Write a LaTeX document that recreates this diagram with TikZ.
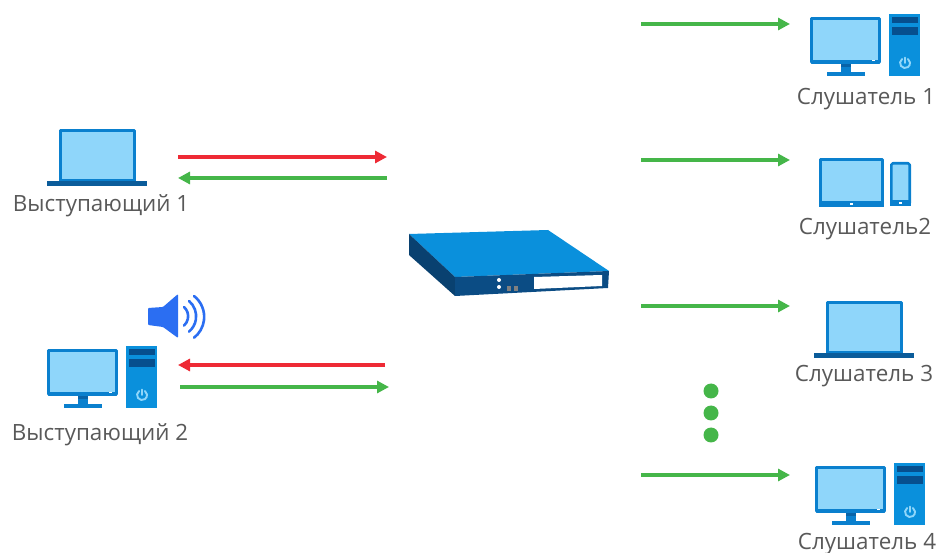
\documentclass[tikz,border=0pt]{standalone}
\usepackage{fontspec}
\setmainfont{Open Sans}
\usetikzlibrary{arrows.meta}
\definecolor{frameblue}{HTML}{0A80CE}
\definecolor{screenblue}{HTML}{8FD6FA}
\definecolor{towerblue}{HTML}{0A90DC}
\definecolor{slotblue}{HTML}{064F8E}
\definecolor{navyblue}{HTML}{0B4C84}
\definecolor{topblue}{HTML}{0A90DC}
\definecolor{speakerblue}{HTML}{2B6EF2}
\definecolor{arrowred}{HTML}{EE2A35}
\definecolor{arrowgreen}{HTML}{45B649}
\definecolor{labelgray}{HTML}{595959}
\tikzset{
  x=1pt,y=-1pt,
  screenbox/.style={fill=screenblue,draw=frameblue,line width=3.2pt,line join=round},
  flow/.style={line width=4pt,-{Triangle[length=12pt,width=12pt]}},
  redflow/.style={flow,draw=arrowred},
  greenflow/.style={flow,draw=arrowgreen},
  lbl/.style={text=labelgray,font=\fontsize{22.4pt}{25pt}\selectfont,inner sep=0pt,anchor=center},
  greendot/.style={circle,fill=arrowgreen,minimum size=15pt,inner sep=0pt},
  desktop/.pic={
    \fill[frameblue] (31,46) rectangle (41,55);
    \fill[slotblue!60!frameblue] (31,46) rectangle (41,50);
    \fill[frameblue] (17,55) rectangle (55,59);
    \draw[screenbox] (1.6,1.6) rectangle (69.4,45);
    \fill[white] (62,42.6) rectangle (65,43.6);
    \fill[towerblue] (79,-3) rectangle (110,59);
    \fill[slotblue] (82,0) rectangle (108,6);
    \fill[slotblue] (82,10) rectangle (108,18);
    \draw[screenblue,line width=1.9pt,line cap=round] (92.1,42) arc[start angle=234,delta angle=-288,radius=5];
    \draw[screenblue,line width=1.9pt,line cap=round] (95,40.5) -- (95,46);
  },
  laptop/.pic={
    \draw[screenbox] (1.6,1.6) rectangle (75.4,52);
    \fill[navyblue!70!frameblue] (-12,52) rectangle (88,57);
  },
}
\begin{document}
\begin{tikzpicture}
\useasboundingbox (0,0) rectangle (938,553);
% central device
\fill[topblue] (409,234) -- (548,230) -- (609,271) -- (455,277) -- cycle;
\fill[navyblue!85!black] (409,234) -- (455,277) -- (455,296) -- (409,255) -- cycle;
\fill[navyblue] (455,277) -- (609,271) -- (608,288) -- (455,296) -- cycle;
\fill[white] (534,277) -- (602,275) -- (602,286) -- (534,289) -- cycle;
\fill[white] (499,280) circle[radius=2];
\fill[white] (499,287) circle[radius=2];
\fill[gray] (507,286) rectangle (511,291);
\fill[gray] (514,286) rectangle (518,291);
% computers
\pic at (810,17) {desktop};
\pic at (47,349) {desktop};
\pic at (815,466) {desktop};
\pic at (59,129) {laptop};
\pic at (826,301) {laptop};
% tablet and phone
\draw[screenbox] (820.6,159.6) rectangle (882.4,205.4);
\fill[frameblue] (819,201) rectangle (884,207);
\fill[white] (850,202.6) rectangle (853,205);
\draw[screenbox,line width=2.6pt,rounded corners=1.5pt] (891.3,163.3) rectangle (909.7,204.7);
\fill[frameblue] (890,200) rectangle (911,206);
\fill[white] (899,201.8) rectangle (902,204.2);
% speaker
\fill[speakerblue,rounded corners=1pt] (148,308) -- (163,307) -- (178,294) -- (178,338) -- (163,327) -- (148,325) -- cycle;
\draw[speakerblue,line width=2.6pt,line cap=round] (184,307) arc[start angle=-48,end angle=48,radius=12.5];
\draw[speakerblue,line width=2.6pt,line cap=round] (189,301) arc[start angle=-50,end angle=50,radius=20];
\draw[speakerblue,line width=2.6pt,line cap=round] (194,296) arc[start angle=-52,end angle=52,radius=26.5];
% labels
\node[lbl] (s1) at (101,205.5) {Выступающий 1};
\node[lbl] (s2) at (100,434.5) {Выступающий 2};
\node[lbl] (l1) at (866,99.5) {Слушатель 1};
\node[lbl] (l2) at (865,229.5) {Слушатель2};
\node[lbl] (l3) at (864,376.5) {Слушатель 3};
\node[lbl] (l4) at (867,544) {Слушатель 4};
% connector ends
\coordinate (a1) at (178,157); \coordinate (b1) at (387,157);
\coordinate (a2) at (387,178); \coordinate (b2) at (178,178);
\coordinate (a3) at (385,365); \coordinate (b3) at (178,365);
\coordinate (a4) at (180,387); \coordinate (b4) at (389,387);
\coordinate (c1) at (641,24); \coordinate (d1) at (790,24);
\coordinate (c2) at (641,160); \coordinate (d2) at (790,160);
\coordinate (c3) at (641,306); \coordinate (d3) at (790,306);
\coordinate (c4) at (641,475); \coordinate (d4) at (790,475);
\draw[redflow] (a1) -- (b1);
\draw[greenflow] (a2) -- (b2);
\draw[redflow] (a3) -- (b3);
\draw[greenflow] (a4) -- (b4);
\draw[greenflow] (c1) -- (d1);
\draw[greenflow] (c2) -- (d2);
\draw[greenflow] (c3) -- (d3);
\draw[greenflow] (c4) -- (d4);
% dots
\node[greendot] (g1) at (711,391) {};
\node[greendot] (g2) at (711,413) {};
\node[greendot] (g3) at (711,435) {};
\end{tikzpicture}
\end{document}
